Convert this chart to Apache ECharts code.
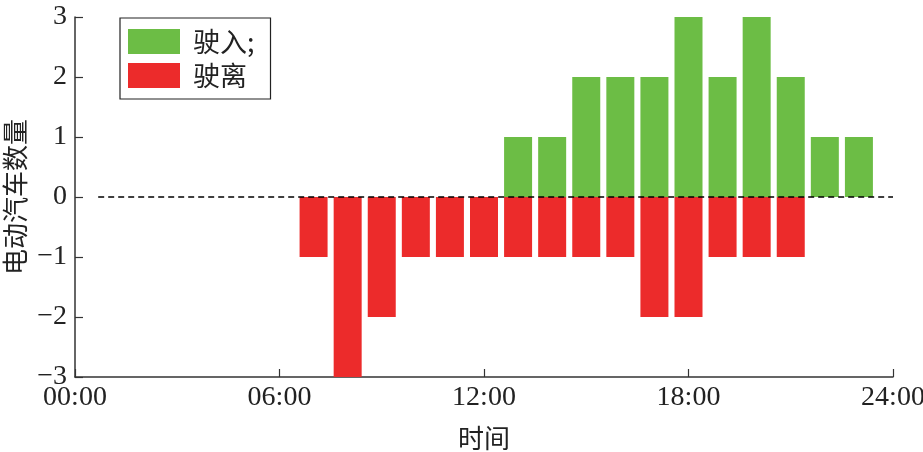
<!DOCTYPE html>
<html><head><meta charset="utf-8">
<script src="https://cdn.jsdelivr.net/npm/echarts@6/dist/echarts.min.js"></script>
<style>html,body{margin:0;padding:0;background:#fff}#c{width:923px;height:452px}</style>
</head><body><div id="c"></div>
<script>
const hours = [7,8,9,10,11,12,13,14,15,16,17,18,19,20,21,22,23];
const arrivals = [0,0,0,0,0,0,1,1,2,2,2,3,2,3,2,1,1];
const departures = [-1,-3,-2,-1,-1,-1,-1,-1,-1,-1,-2,-2,-1,-1,-1,0,0];
const xTickLabels = ['00:00','06:00','12:00','18:00','24:00'];
const zeroLine = [[0.68,0],[24,0]];
const seriesNames = ['驶入;','驶离'];

const num = "'Liberation Serif','Times New Roman',serif";
const cjk = "'Noto Sans CJK SC',sans-serif";
const chart = echarts.init(document.getElementById('c'));
chart.setOption({
  animation:false,
  grid:{left:75,right:30,top:17,bottom:75,containLabel:false,outerBoundsMode:'none'},
  legend:{
    left:120, top:18, orient:'vertical',
    data:seriesNames,
    itemWidth:52, itemHeight:25, itemGap:7,
    borderColor:'#222', borderWidth:1.2,
    padding:[10,16,10,8],
    textStyle:{fontFamily:cjk,fontSize:27,lineHeight:25,color:'#222',padding:[0,0,0,8]},
    icon:'rect'
  },
  xAxis:{
    type:'value', min:0, max:24, interval:6,
    name:'时间', nameLocation:'middle', nameGap:48,
    nameTextStyle:{fontFamily:cjk,fontSize:26,color:'#222'},
    axisLine:{onZero:false,lineStyle:{color:'#333',width:1.5}},
    axisTick:{inside:true,length:8,lineStyle:{color:'#333',width:1.2}},
    axisLabel:{fontFamily:num,fontSize:28,color:'#222',margin:7,
      formatter:v=>xTickLabels[Math.round(v/6)]},
    splitLine:{show:false}
  },
  yAxis:{
    type:'value', min:-3, max:3, interval:1,
    name:'电动汽车数量', nameLocation:'middle', nameGap:47, nameRotate:90,
    nameMoveOverlap:false,
    nameTextStyle:{fontFamily:cjk,fontSize:26,color:'#222'},
    axisLine:{show:true,lineStyle:{color:'#333',width:1.5}},
    axisTick:{show:true,inside:true,length:8,lineStyle:{color:'#333',width:1.2}},
    axisLabel:{fontFamily:num,fontSize:28,color:'#222',margin:8,
      formatter:v=>String(v).replace('-','\u2212')},
    splitLine:{show:false}
  },
  series:[
    {name:seriesNames[0],type:'bar',data:hours.map((h,i)=>[h,arrivals[i]]),
     barWidth:28,barGap:'-100%',itemStyle:{color:'#6cbd45'}},
    {name:seriesNames[1],type:'bar',data:hours.map((h,i)=>[h,departures[i]]),
     barWidth:28,barGap:'-100%',itemStyle:{color:'#ec2b2b'}},
    {type:'line',data:zeroLine,symbol:'none',silent:true,z:5,
     lineStyle:{color:'#000',width:1.4,type:[6,4]}}
  ]
});
</script></body></html>
